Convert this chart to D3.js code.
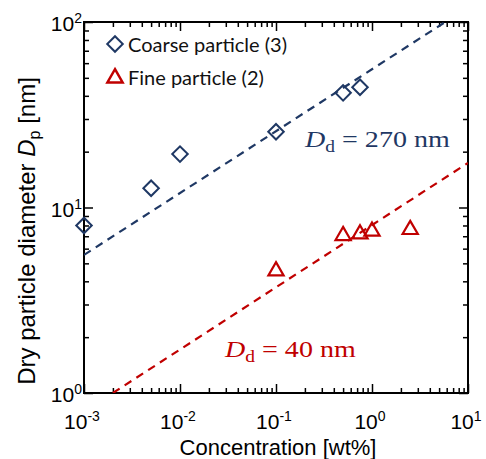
<!DOCTYPE html>
<html>
<head>
<meta charset="utf-8">
<script src="https://d3js.org/d3.v7.min.js"></script>
<style>
  body {margin: 0; background: #fff;}
  svg {display: block; font-family: "Liberation Sans", Arial, sans-serif;}
</style>
</head>
<body>
<script>
// values
const coarseConc = [0.001, 0.005, 0.01, 0.1, 0.5, 0.75];
const coarseDp   = [8.0, 12.7, 19.4, 25.6, 41.5, 44.5];
const fineConc   = [0.1, 0.5, 0.75, 1.0, 2.5];
const fineDp     = [4.55, 7.05, 7.2, 7.45, 7.6];
// dashed model lines (end points)
const coarseFitConc = [0.001, 5.8];
const coarseFitDp   = [5.55, 100];
const fineFitConc   = [0.002, 10];
const fineFitDp     = [1, 17.4];
const xTickExp = [-3, -2, -1, 0, 1];
const yTickExp = [0, 1, 2];
const legendLabels = ["Coarse particle (3)", "Fine particle (2)"];

const width = 486, height = 459;
const margin = {left: 84, right: 18, top: 22, bottom: 66};
const blue = "#1f3864", red = "#c00000";

const svg = d3.select("body").append("svg")
  .attr("width", width).attr("height", height);

const x = d3.scaleLog().domain([1e-3, 10]).range([margin.left, width - margin.right]);
const y = d3.scaleLog().domain([1, 100]).range([height - margin.bottom, margin.top]);

// log ticks
const allX = x.ticks(), allY = y.ticks();
const majX = allX.filter(v => Math.abs(Math.log10(v) % 1) < 1e-9);
const majY = allY.filter(v => Math.abs(Math.log10(v) % 1) < 1e-9);
const minX = allX.filter(v => !majX.includes(v));
const minY = allY.filter(v => !majY.includes(v));

function tickLayer(axisFn, scale, vals, size, transform) {
  const g = svg.append("g").attr("transform", transform)
    .call(axisFn(scale).tickValues(vals).tickSize(size).tickFormat(""));
  g.select(".domain").remove();
  g.selectAll("line").attr("stroke", "#000").attr("stroke-width", 1.5);
}
const bottomY = height - margin.bottom, rightX = width - margin.right;
tickLayer(d3.axisBottom, x, minX, -5, `translate(0,${bottomY})`);
tickLayer(d3.axisBottom, x, majX, -9, `translate(0,${bottomY})`);
tickLayer(d3.axisTop, x, minX, -5, `translate(0,${margin.top})`);
tickLayer(d3.axisTop, x, majX, -9, `translate(0,${margin.top})`);
tickLayer(d3.axisLeft, y, minY, -5, `translate(${margin.left},0)`);
tickLayer(d3.axisLeft, y, majY, -9, `translate(${margin.left},0)`);
tickLayer(d3.axisRight, y, minY, -5, `translate(${rightX},0)`);
tickLayer(d3.axisRight, y, majY, -9, `translate(${rightX},0)`);

// frame
svg.append("rect")
  .attr("x", margin.left).attr("y", margin.top)
  .attr("width", rightX - margin.left).attr("height", bottomY - margin.top)
  .attr("fill", "none").attr("stroke", "#000").attr("stroke-width", 2);

// tick labels with superscript exponents
function powLabel(sel, e) {
  sel.append("tspan").text("10");
  sel.append("tspan").attr("dy", -8).attr("font-size", 14).text(e);
}
xTickExp.forEach(e => {
  svg.append("text")
    .attr("x", x(Math.pow(10, e)) - 2).attr("y", 429)
    .attr("text-anchor", "middle").attr("font-size", 21).attr("fill", "#000")
    .call(powLabel, e);
});
yTickExp.forEach(e => {
  svg.append("text")
    .attr("x", margin.left - 2).attr("y", y(Math.pow(10, e)) + 9)
    .attr("text-anchor", "end").attr("font-size", 21).attr("fill", "#000")
    .call(powLabel, e);
});

// axis titles
svg.append("text")
  .attr("x", 278).attr("y", 455)
  .attr("text-anchor", "middle").attr("font-size", 22)
  .text("Concentration [wt%]");

const yt = svg.append("text")
  .attr("transform", "translate(35,231) rotate(-90)")
  .attr("text-anchor", "middle").attr("font-size", 24);
yt.append("tspan").text("Dry particle diameter ");
yt.append("tspan").attr("font-style", "italic").text("D");
yt.append("tspan").attr("font-size", 16).attr("dy", 5).text("p");
yt.append("tspan").attr("dy", -5).text(" [nm]");

// clip for model lines
svg.append("clipPath").attr("id", "plot")
  .append("rect")
  .attr("x", margin.left).attr("y", margin.top)
  .attr("width", rightX - margin.left).attr("height", bottomY - margin.top);

const line = d3.line().x(d => x(d[0])).y(d => y(d[1]));
const fits = [
  {c: coarseFitConc, d: coarseFitDp, col: blue},
  {c: fineFitConc, d: fineFitDp, col: red}
];
fits.forEach(f => {
  svg.append("path")
    .datum(f.c.map((v, i) => [v, f.d[i]]))
    .attr("d", line)
    .attr("clip-path", "url(#plot)")
    .attr("fill", "none").attr("stroke", f.col)
    .attr("stroke-width", 2.2).attr("stroke-dasharray", "8,6");
});

// markers
const diamond = d3.symbol(d3.symbolSquare, 120);
const triangle = d3.symbol(d3.symbolTriangle, 100);

svg.append("g").selectAll("path")
  .data(coarseConc.map((v, i) => [v, coarseDp[i]]))
  .join("path")
  .attr("d", diamond)
  .attr("transform", d => `translate(${x(d[0])},${y(d[1])}) rotate(45)`)
  .attr("fill", "none").attr("stroke", blue).attr("stroke-width", 2);

svg.append("g").selectAll("path")
  .data(fineConc.map((v, i) => [v, fineDp[i]]))
  .join("path")
  .attr("d", triangle)
  .attr("transform", d => `translate(${x(d[0])},${y(d[1])})`)
  .attr("fill", "none").attr("stroke", red).attr("stroke-width", 2.2);

// legend
const legend = svg.append("g").attr("font-family", "Lato, sans-serif").attr("font-size", 20);
legend.append("path").attr("d", diamond)
  .attr("transform", "translate(115,44) rotate(45)")
  .attr("fill", "none").attr("stroke", blue).attr("stroke-width", 2);
legend.append("path").attr("d", triangle)
  .attr("transform", "translate(115,78)")
  .attr("fill", "none").attr("stroke", red).attr("stroke-width", 2.5);
legend.selectAll("text").data(legendLabels).join("text")
  .attr("x", 128).attr("y", (d, i) => 52 + i * 33)
  .attr("fill", "#111").text(d => d);

// model annotations
function annot(xPos, yPos, col, val) {
  const t = svg.append("text")
    .attr("transform", `translate(${xPos},${yPos}) scale(1.22,1)`)
    .attr("font-family", "'Liberation Serif', 'Times New Roman', serif")
    .attr("font-size", 23).attr("fill", col);
  t.append("tspan").attr("font-style", "italic").text("D");
  t.append("tspan").attr("font-size", 16).attr("dy", 5).text("d");
  t.append("tspan").attr("dy", -5).text(" = " + val + " nm");
}
annot(305, 147, blue, 270);
annot(225, 357, red, 40);
</script>
</body>
</html>
